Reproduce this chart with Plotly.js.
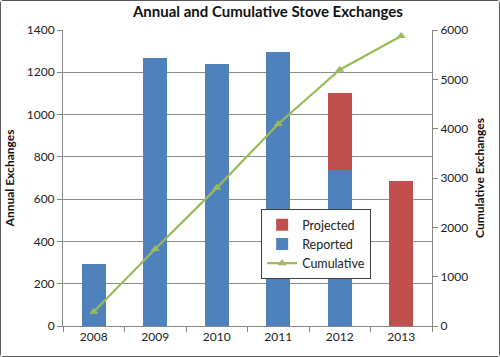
<!DOCTYPE html>
<html><head><meta charset="utf-8">
<script src="https://cdn.plot.ly/plotly-3.0.1.min.js"></script>
<style>
html,body{margin:0;padding:0;background:#fff;}
#chart{width:498px;height:355px;border:1px solid #5a5a5a;border-radius:3px;}
</style></head>
<body><div id="chart"></div>
<script>
const years = ['2008','2009','2010','2011','2012','2013'];
const reported = [292, 1268, 1240, 1295, 736, null];
const projected = [null, null, null, null, 365, 684];
const cumulative = [290, 1560, 2800, 4095, 5195, 5880];

const font = 'Lato, "Open Sans", sans-serif';
const traces = [
  {type:'bar', name:'Reported', x:years, y:reported, marker:{color:'#4F81BD'}, legendrank:2},
  {type:'bar', name:'Projected', x:years, y:projected, marker:{color:'#C0504D'}, legendrank:1},
  {type:'scatter', mode:'lines+markers', name:'Cumulative', x:years, y:cumulative, yaxis:'y2',
   line:{color:'#9BBB59', width:2.2}, marker:{symbol:'triangle-up', size:8, color:'#9BBB59'}, legendrank:3}
];
const layout = {
  width:498, height:355,
  margin:{l:62, r:67, t:29, b:30},
  paper_bgcolor:'#fff', plot_bgcolor:'#fff',
  font:{family:font, size:12, color:'#222'},
  title:{text:'<b>Annual and Cumulative Stove Exchanges</b>', font:{size:15, color:'#111'}, x:0.536, xanchor:'center', y:0.985, yanchor:'top'},
  barmode:'stack', bargap:0.61,
  showlegend:true,
  legend:{x:0.537, y:0.395, xanchor:'left', yanchor:'top', bgcolor:'#fff', bordercolor:'#404040', borderwidth:1,
          font:{size:12.5, color:'#222'}, traceorder:'normal', itemwidth:30},
  xaxis:{type:'category', showline:true, linecolor:'#868686', linewidth:1, ticks:'outside', tickson:'boundaries',
         ticklen:5, tickcolor:'#868686', showgrid:false, tickfont:{size:12}},
  yaxis:{range:[0,1400], dtick:200, showline:true, linecolor:'#868686', ticks:'outside', ticklen:5, tickcolor:'#868686',
         gridcolor:'#8c8c8c', gridwidth:1, zeroline:false, tickfont:{size:12},
         title:{text:'<b>Annual Exchanges</b>', font:{size:12, color:'#111'}, standoff:9}},
  yaxis2:{range:[0,6000], dtick:1000, overlaying:'y', side:'right', showline:true, linecolor:'#868686', ticks:'outside',
          ticklen:5, tickcolor:'#868686', showgrid:false, zeroline:false, tickfont:{size:12},
          title:{text:'<b>Cumulative Exchanges</b>', font:{size:12, color:'#111'}, standoff:8}}
};
Plotly.newPlot('chart', traces, layout, {displayModeBar:false, staticPlot:true});
</script></body></html>
